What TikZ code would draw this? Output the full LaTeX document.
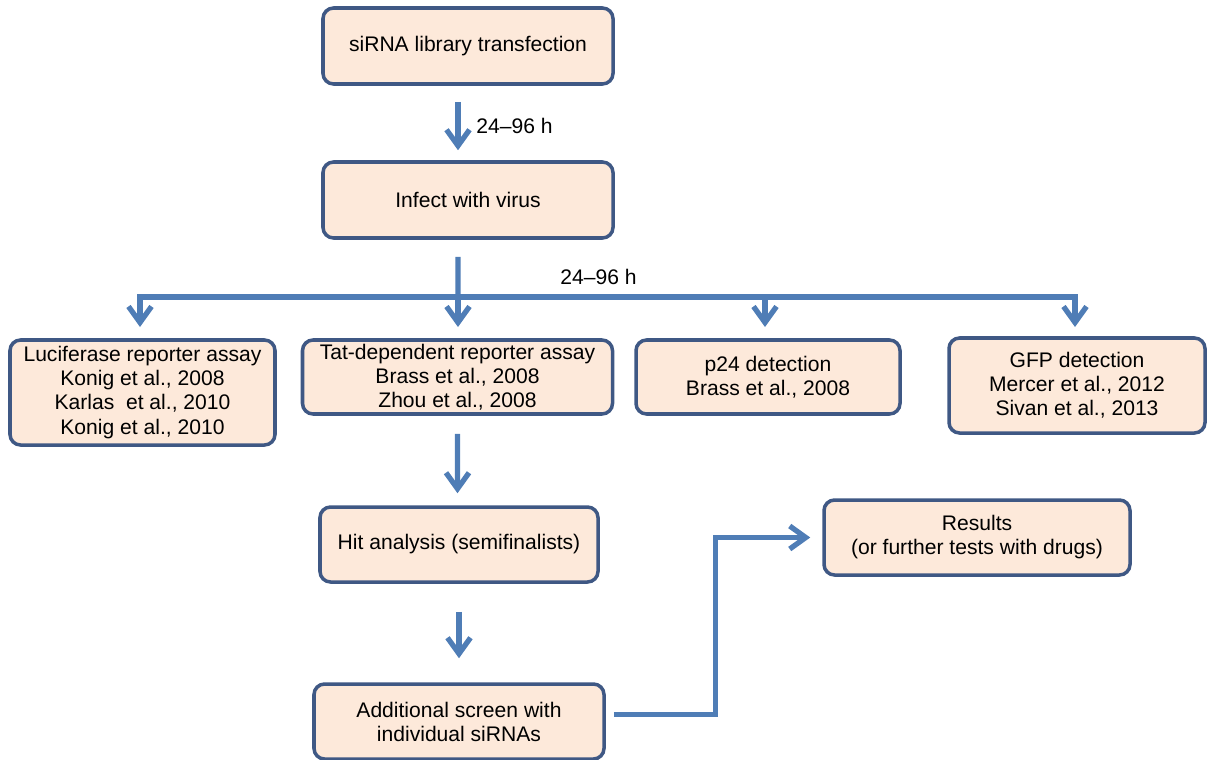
\documentclass[tikz,border=0pt]{standalone}
\usepackage{fontspec}
\setmainfont{Liberation Sans}
\usepackage{tikz}
\usetikzlibrary{arrows.meta,positioning,calc}
\definecolor{boxline}{HTML}{3F5884}
\definecolor{boxfill}{HTML}{FDE9DA}
\definecolor{arrblue}{HTML}{4F7DB6}

\begin{document}
\begin{tikzpicture}[
  bx/.style={draw=boxline,fill=boxfill,line width=2pt,rounded corners=6pt,
             minimum width=5.8cm,minimum height=1.52cm,align=center,
             inner sep=1pt,font=\fontsize{12}{13.7}\selectfont},
  arr/.style={-{Straight Barb[length=3.2mm,width=4.6mm]},arrblue,line width=3pt},
  lbl/.style={black,font=\fontsize{12}{13.7}\selectfont}]
\useasboundingbox (0,0) rectangle (24.16,-15.18);
\node[bx] (lib) at (9.36,-0.92) {siRNA library transfection};
\node[bx] (inf) at (9.36,-4.0)  {Infect with virus};
\node[bx,minimum width=5.3cm,minimum height=2.1cm] (luc) at (2.85,-7.85)
  {Luciferase reporter assay\\Konig et al., 2008\\Karlas\ \ et al., 2010\\Konig et al., 2010};
\node[bx,minimum width=6.2cm,minimum height=1.48cm] (tat) at (9.15,-7.54)
  {Tat-dependent reporter assay\\Brass et al., 2008\\Zhou et al., 2008};
\node[bx,minimum width=5.28cm,minimum height=1.48cm] (p24) at (15.36,-7.54)
  {p24 detection\\Brass et al., 2008};
\node[bx,minimum width=5.12cm,minimum height=1.9cm] (gfp) at (21.54,-7.71)
  {GFP detection\\Mercer et al., 2012\\Sivan et al., 2013};
\node[bx,minimum width=5.56cm,minimum height=1.5cm] (hit) at (9.18,-10.89)
  {Hit analysis (semifinalists)};
\node[bx,minimum height=1.5cm] (add) at (9.18,-14.43)
  {Additional screen with\\individual siRNAs};
\node[bx,minimum width=6.12cm,minimum height=1.5cm] (res) at (19.54,-10.75)
  {Results\\(or further tests with drugs)};
% arrows between the stages
\draw[arr] ([xshift=-2mm,yshift=-3.2mm]lib.south) -- ([xshift=-2mm,yshift=2mm]inf.north)
  node[lbl,midway,right=2mm] {24\textendash96 h};
\coordinate (bl) at (2.8,-5.94);
\coordinate (br) at (21.5,-5.94);
\draw[arrblue,line width=3pt,line cap=rect] (bl) -- (br);
\draw[arrblue,line width=3pt] ([xshift=-2mm,yshift=-3.4mm]inf.south) -- (9.16,-5.94);
\node[lbl] (hrs) at (11.97,-5.54) {24\textendash96 h};
\foreach \x/\b in {2.8/luc,9.16/tat,15.3/p24,21.5/gfp}{
  \draw[arr] (\x,-5.94) -- (\x,-6.54);}
\draw[arr] ([yshift=-3.6mm]tat.south) -- ([xshift=-0.3mm,yshift=2.4mm]hit.north);
\draw[arr] ([yshift=-5.6mm]hit.south) -- ([yshift=4.8mm]add.north);
\draw[arr] ([xshift=1.6mm,yshift=1.4mm]add.east) -- ++(2.04,0) |- ([xshift=-2.4mm]res.west);
\end{tikzpicture}
\end{document}
